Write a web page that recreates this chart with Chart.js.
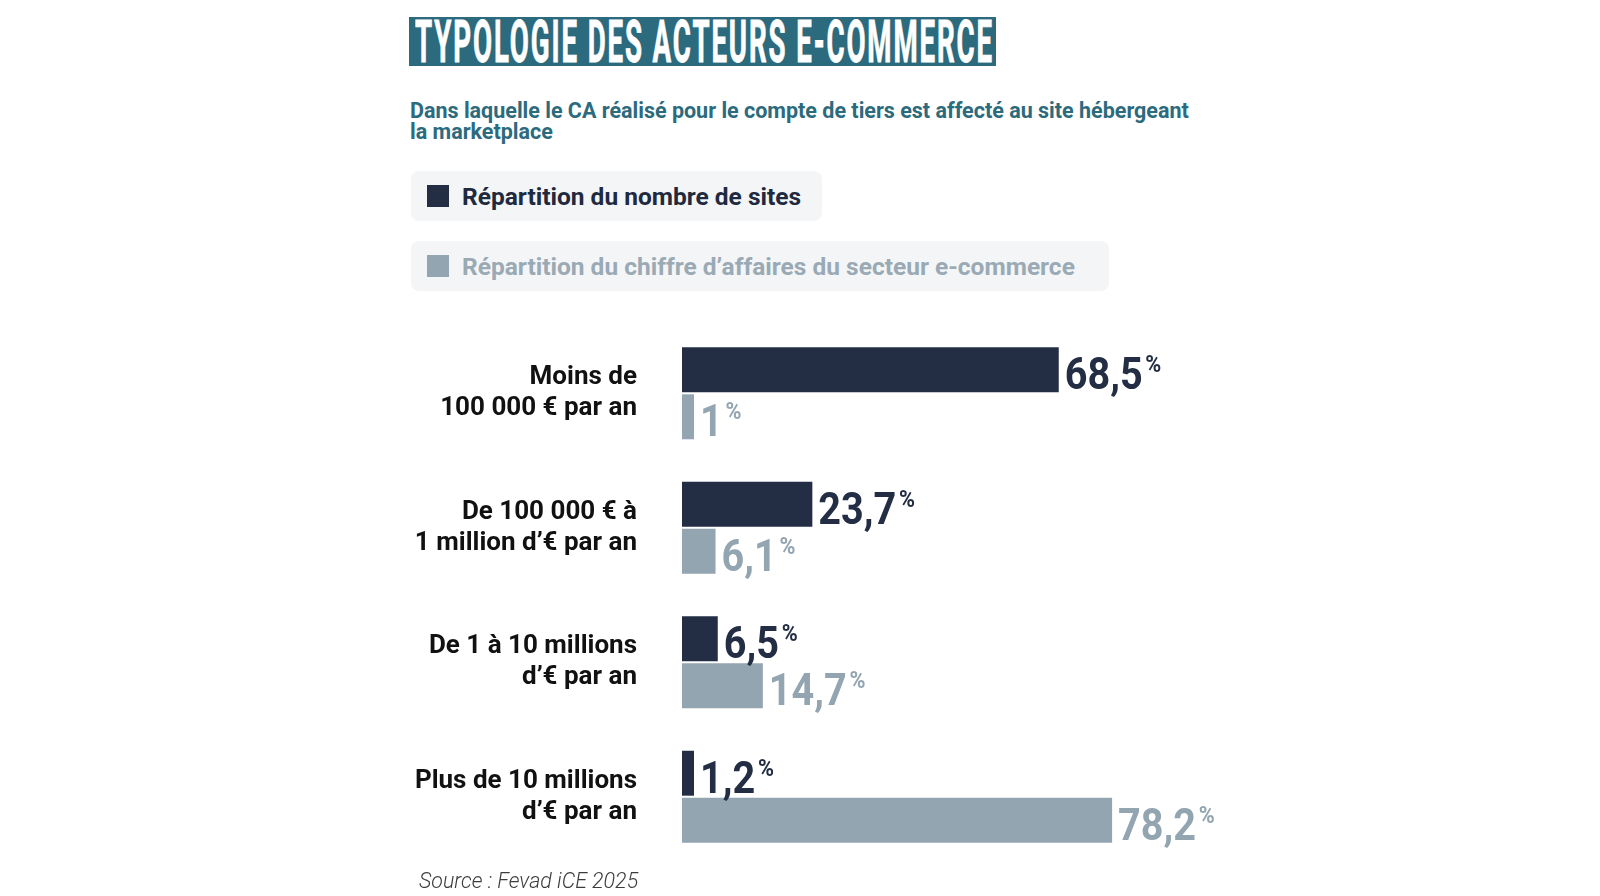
<!DOCTYPE html>
<html lang="fr">
<head>
<meta charset="utf-8">
<title>Typologie des acteurs e-commerce</title>
<script src="https://cdn.jsdelivr.net/npm/chart.js@4.4.1/dist/chart.umd.min.js"></script>
<style>
  html, body { margin: 0; padding: 0; background: #fff; }
  body { width: 1600px; height: 896px; position: relative; overflow: hidden; font-family: Roboto, 'Noto Sans', sans-serif; }
  #title { position: absolute; left: 409px; top: 17px; width: 587px; height: 49px; background: #2c6a7d; overflow: hidden; }
  #title span { position: absolute; left: 6px; top: 0; font-weight: 700; font-size: 59px; line-height: 50px; letter-spacing: 4px; color: #fff; -webkit-text-stroke: 0.9px #fff; white-space: nowrap; transform-origin: 0 50%; }
  #subtitle { position: absolute; left: 410px; top: 100px; font-weight: 700; font-size: 21.5px; line-height: 21px; color: #2c6a7d; white-space: nowrap; }
  .legend { position: absolute; left: 411px; height: 50px; background: #f4f5f7; border-radius: 8px; display: flex; align-items: center; box-sizing: border-box; padding-left: 16px; font-weight: 700; font-size: 24.5px; white-space: nowrap; }
  .legend i { display: inline-block; width: 22px; height: 22px; margin-right: 13px; }
  #source { position: absolute; left: 419px; top: 868px; font-style: italic; font-weight: 300; font-size: 21.4px; color: #3c3c3c; white-space: nowrap; }
  #wrap { position: absolute; left: 0; top: 0; width: 1600px; height: 896px; }
</style>
</head>
<body>
<div id="title"><span>TYPOLOGIE DES ACTEURS E-COMMERCE</span></div>
<div id="subtitle">Dans laquelle le CA réalisé pour le compte de tiers est affecté au site hébergeant<br>la marketplace</div>
<div id="legends"></div>
<div id="wrap"><canvas id="chart"></canvas></div>
<div id="source">Source : Fevad iCE 2025</div>
<script>
// data
const categories = [
  ['Moins de', '100 000 € par an'],
  ['De 100 000 € à', '1 million d’€ par an'],
  ['De 1 à 10 millions', 'd’€ par an'],
  ['Plus de 10 millions', 'd’€ par an']
];
const seriesNames = [
  'Répartition du nombre de sites',
  'Répartition du chiffre d’affaires du secteur e-commerce'
];
const sitesShare = [68.5, 23.7, 6.5, 1.2];
const revenueShare = [1, 6.1, 14.7, 78.2];

const barColors = ['#232e44', '#93a5b1'];
const legendTextColors = ['#1f2a3f', '#9aaab5'];

// legend
const legendTops = [171, 241];
const legendWidths = [411, 698];
const legendBox = document.getElementById('legends');
seriesNames.forEach((name, i) => {
  const d = document.createElement('div');
  d.className = 'legend';
  d.style.top = legendTops[i] + 'px';
  d.style.width = legendWidths[i] + 'px';
  d.style.color = legendTextColors[i];
  d.innerHTML = '<i style="background:' + barColors[i] + '"></i>' + name;
  legendBox.appendChild(d);
});

// squeeze the title into the box like the condensed face of the original
const titleSpan = document.querySelector('#title span');
titleSpan.style.transform = 'scaleX(' + (579 / titleSpan.offsetWidth) + ')';

const valueLabels = {
  id: 'valueLabels',
  afterDatasetsDraw(chart) {
    const ctx = chart.ctx;
    chart.data.datasets.forEach((ds, i) => {
      const meta = chart.getDatasetMeta(i);
      meta.data.forEach((bar, j) => {
        const txt = String(ds.data[j]).replace('.', ',');
        ctx.save();
        ctx.fillStyle = ds.backgroundColor;
        ctx.textAlign = 'left';
        ctx.textBaseline = 'alphabetic';
        ctx.translate(bar.x + 6, bar.y + bar.height / 2 - 3);
        ctx.scale(0.9, 1);
        ctx.font = 'bold 44px Roboto';
        ctx.fillText(txt, 0, 0);
        const w = ctx.measureText(txt).width;
        ctx.font = 'bold 24px Roboto';
        ctx.fillText('%', w + 3, -17);
        ctx.restore();
      });
    });
  }
};

new Chart(document.getElementById('chart'), {
  type: 'bar',
  data: {
    labels: categories,
    datasets: [
      { label: seriesNames[0], data: sitesShare, backgroundColor: barColors[0], minBarLength: 12 },
      { label: seriesNames[1], data: revenueShare, backgroundColor: barColors[1], minBarLength: 12 }
    ]
  },
  options: {
    indexAxis: 'y',
    responsive: true,
    maintainAspectRatio: false,
    animation: false,
    categoryPercentage: 0.7,
    barPercentage: 0.955,
    layout: { padding: { left: 0, top: 326, right: 368, bottom: 32 } },
    scales: {
      x: { display: false, min: 0, max: 100 },
      y: {
        afterFit: (scale) => {
          scale.width = 682;
          scale.paddingTop = 0;
          scale.paddingBottom = 0;
        },
        grid: { display: false, drawTicks: false, tickLength: 0 },
        border: { display: false },
        ticks: {
          padding: 45,
          color: '#111',
          font: { family: 'Roboto', weight: 'bold', size: 26, lineHeight: 1.18 }
        }
      }
    },
    plugins: {
      legend: { display: false },
      tooltip: { enabled: false }
    }
  },
  plugins: [valueLabels]
});
</script>
</body>
</html>
